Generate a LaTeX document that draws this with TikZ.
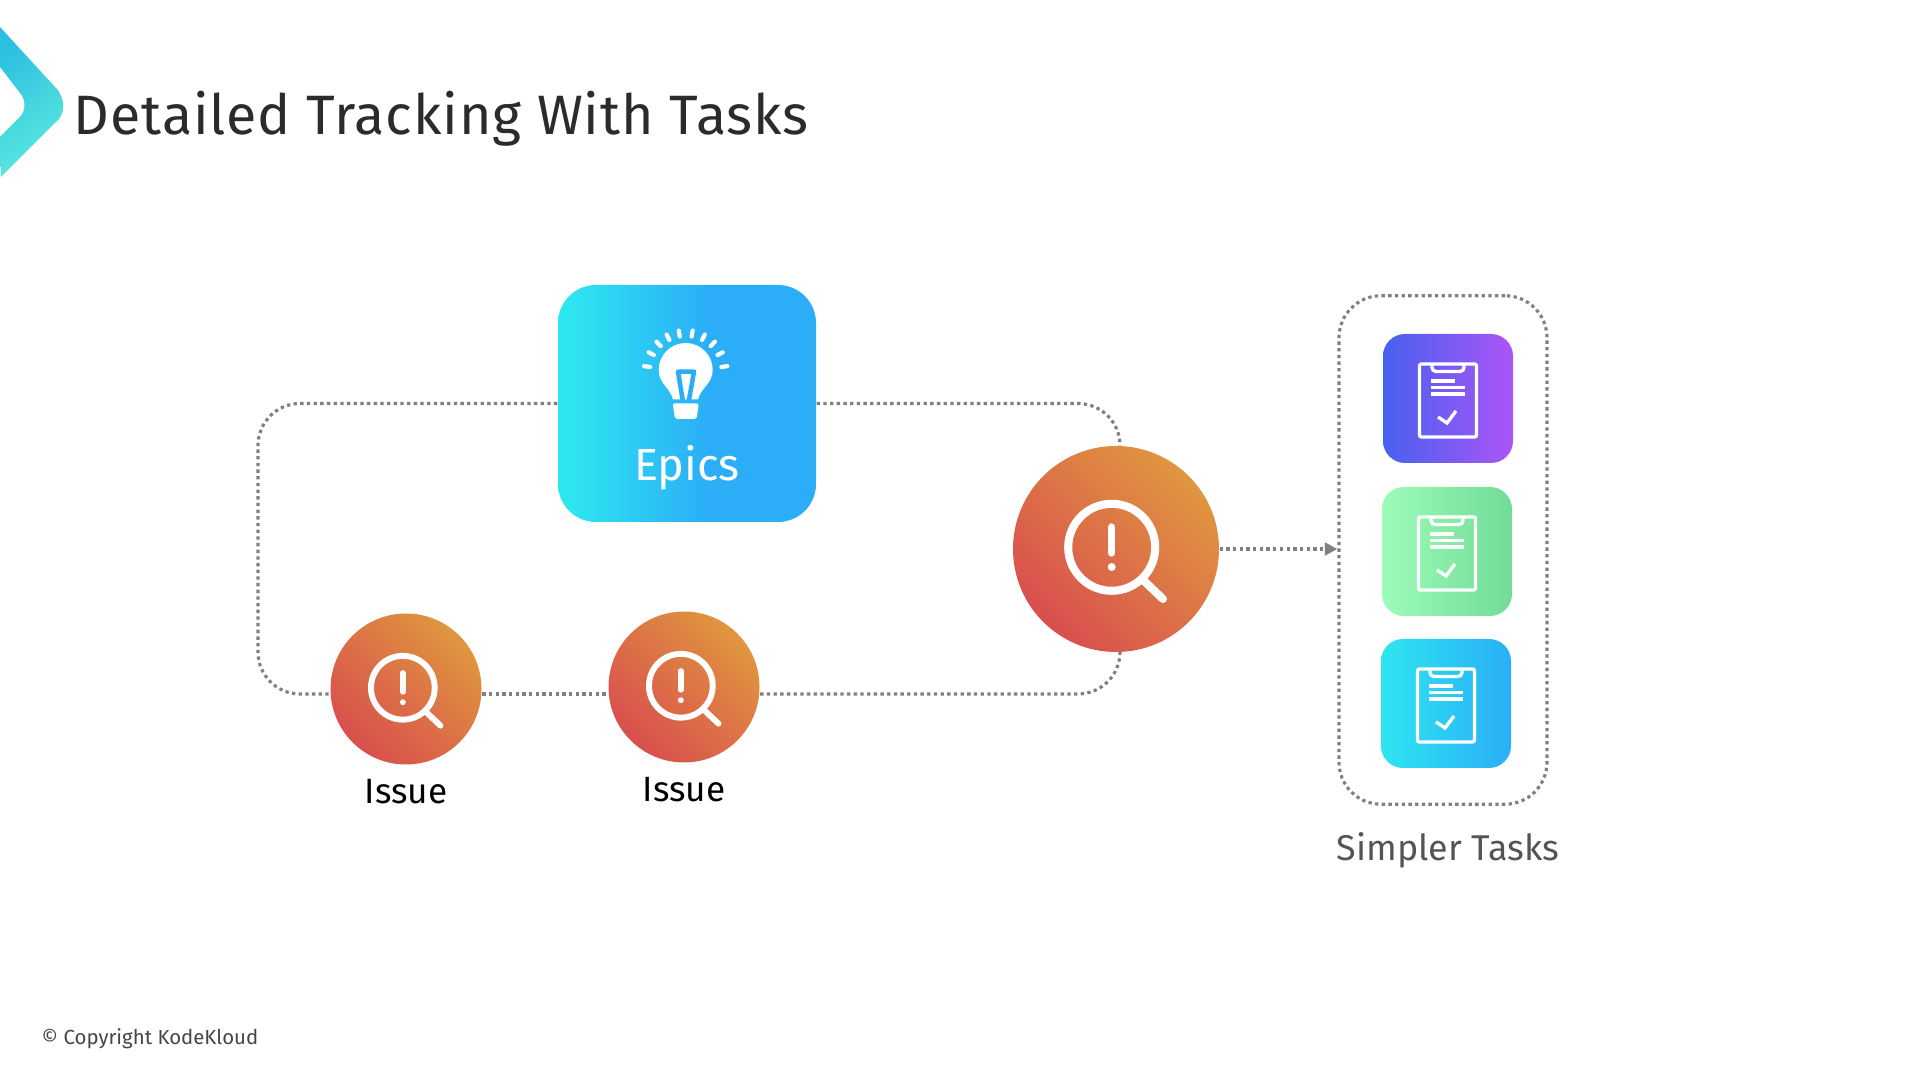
\documentclass[tikz,border=0pt]{standalone}
\usepackage{fontspec}
\setmainfont{Fira Sans}
\usetikzlibrary{positioning,arrows.meta}
\definecolor{logoblue}{HTML}{2CC0E0}
\definecolor{logoteal}{HTML}{5CEADD}
\definecolor{epiccyan}{HTML}{2EE6F0}
\definecolor{epicblue}{HTML}{2BAEF7}
\definecolor{issuered}{HTML}{D94F4E}
\definecolor{issueorange}{HTML}{E0963F}
\definecolor{taskindigo}{HTML}{4761EE}
\definecolor{taskviolet}{HTML}{AB55F8}
\definecolor{taskmint}{HTML}{9CFCB8}
\definecolor{taskgreen}{HTML}{72DB98}
\definecolor{flowgray}{HTML}{808080}
\pgfdeclarehorizontalshading{epicshade}{100bp}{color(0bp)=(epiccyan); color(27bp)=(epiccyan); color(54bp)=(epicblue); color(100bp)=(epicblue)}
\tikzset{
  flowline/.style={flowgray,line width=0.9pt,dash pattern=on 0.95pt off 0.95pt},
  issuecircle/.style={circle,inner sep=0,bottom color=issuered,top color=issueorange,shading angle=-45},
  taskbox/.style={minimum width=1.30cm,minimum height=1.29cm,inner sep=0,rounded corners=0.22cm},
  issuelabel/.style={black,font=\fontsize{10}{12}\selectfont},
}
\newcommand{\issueicon}[2]{
  \begin{scope}[shift={(#1)},scale=#2,white,line cap=round]
    \draw[line width=#2*2.3pt] (-0.043,0.017) circle (0.435);
    \draw[line width=#2*2.3pt] (0.27,-0.31) -- (0.47,-0.50);
    \draw[line width=#2*2.1pt] (-0.043,0.22) -- (-0.043,-0.04);
    \fill (-0.043,-0.18) circle (0.04);
  \end{scope}
}
\newcommand{\clipicon}[1]{
  \begin{scope}[shift={(#1)},white,line width=0.95pt]
    \draw[rounded corners=0.02cm] (-0.285,0.345) rectangle (0.285,-0.385);
    \draw[rounded corners=0.04cm] (-0.16,0.345) -- (-0.16,0.27) -- (0.16,0.27) -- (0.16,0.345);
    \draw (-0.17,0.175) -- (0.07,0.175);
    \draw (-0.17,0.11) -- (0.17,0.11);
    \draw (-0.17,0.045) -- (0.17,0.045);
    \draw (-0.10,-0.185) -- (-0.01,-0.245) -- (0.08,-0.125);
  \end{scope}
}
\begin{document}
\begin{tikzpicture}
  \useasboundingbox (0,0) rectangle (19.2,10.8);

  % logo and title
  \shade[top color=logoblue,middle color=logoteal,bottom color=logoteal,shading angle=35]
    (0,10.53) -- (0.55,9.93) .. controls (0.66,9.82) and (0.66,9.65) .. (0.55,9.57)
    -- (0.01,9.03) -- (0,9.43) -- (0.20,9.63) .. controls (0.26,9.70) and (0.26,9.80) .. (0.20,9.87)
    -- (0,10.13) -- cycle;
  \node[anchor=base west,inner sep=0,text=black!83,font=\fontsize{15.8}{18}\selectfont\addfontfeatures{LetterSpace=1.6}] (title) at (0.73,9.45) {Detailed Tracking With Tasks};

  % main nodes
  \node[minimum width=2.58cm,minimum height=2.37cm,inner sep=0,rounded corners=0.38cm,
    shade,shading=epicshade] (epics) at (6.87,6.765) {};
  \node[anchor=base,white,font=\fontsize{12.8}{15}\selectfont] (epicslabel) at (6.87,5.99) {Epics};
  \node[issuecircle,minimum size=2.06cm] (bigissue) at (11.16,5.31) {};
  \node[issuecircle,minimum size=1.51cm] (issueA) at (4.06,3.91) {};
  \node[issuecircle,minimum size=1.51cm] (issueB) at (6.84,3.93) {};
  \node[issuelabel,below=0.02 of issueA] (labelA) {Issue};
  \node[issuelabel,below=0.02 of issueB] (labelB) {Issue};

  % tasks
  \node[taskbox,left color=taskindigo,right color=taskviolet] (taskA) at (14.48,6.815) {};
  \node[taskbox,left color=taskmint,right color=taskgreen] (taskB) at (14.47,5.285) {};
  \node[taskbox,left color=epiccyan,right color=epicblue] (taskC) at (14.46,3.765) {};
  \node[flowline,draw,minimum width=2.08cm,minimum height=5.085cm,rounded corners=0.42cm] (taskgroup) at (14.43,5.30) {};
  \node[below=0.14 of taskgroup,xshift=0.05cm,text=black!67,font=\fontsize{10.2}{12}\selectfont] (tasklabel) {Simpler Tasks};

  \coordinate (loopSW) at (2.58,3.86);
  \coordinate (loopNW) at (2.58,6.765);

  % connectors
  \draw[flowline,rounded corners=0.42cm] (epics.west) -- (loopNW) -- (loopSW) -- (issueA.west |- loopSW);
  \draw[flowline] (issueA.east |- loopSW) -- (issueB.west |- loopSW);
  \draw[flowline,rounded corners=0.42cm] (issueB.east |- loopSW) -| ([xshift=0.04cm]bigissue.south);
  \draw[flowline,rounded corners=0.42cm] (epics.east) -| ([xshift=0.04cm]bigissue.north);
  \draw[flowline,-{Triangle[length=3.6pt,width=3.6pt]}] (bigissue.east) -- (bigissue.east -| taskgroup.west);

  % icons
  \issueicon{bigissue.center}{1}
  \issueicon{issueA.center}{0.733}
  \issueicon{issueB.center}{0.733}
  \foreach \task in {taskA,taskB,taskC}{
    \clipicon{\task.center}
  }

  \begin{scope}[shift={(epics.center)}]
    \fill[white] (-0.14,0.04) .. controls (-0.17,0.16) and (-0.283,0.20) .. (-0.283,0.335)
      arc[start angle=180,end angle=0,radius=0.27]
      .. controls (0.257,0.20) and (0.14,0.16) .. (0.11,0.04) -- cycle;
    \fill[white,rounded corners=0.02cm] (-0.143,0.0) -- (0.117,0.0) -- (0.097,-0.155) -- (-0.12,-0.155) -- cycle;
    \draw[epicblue,line width=1.3pt,line join=round] (-0.043,0.035) -- (-0.09,0.318) -- (0.07,0.318) -- (0.02,0.035);
    \foreach \ang in {8,28,46,63,80.5,99.5,117,134,152,172}
      \draw[white,line width=1.2pt,line cap=round] ([shift={(\ang:0.36)}]-0.013,0.315) -- ([shift={(\ang:0.42)}]-0.013,0.315);
  \end{scope}

  \node[anchor=base west,inner sep=0,text=black!73,font=\fontsize{5.8}{7}\selectfont] (copyright) at (0.41,0.35) {© Copyright KodeKloud};
\end{tikzpicture}
\end{document}
